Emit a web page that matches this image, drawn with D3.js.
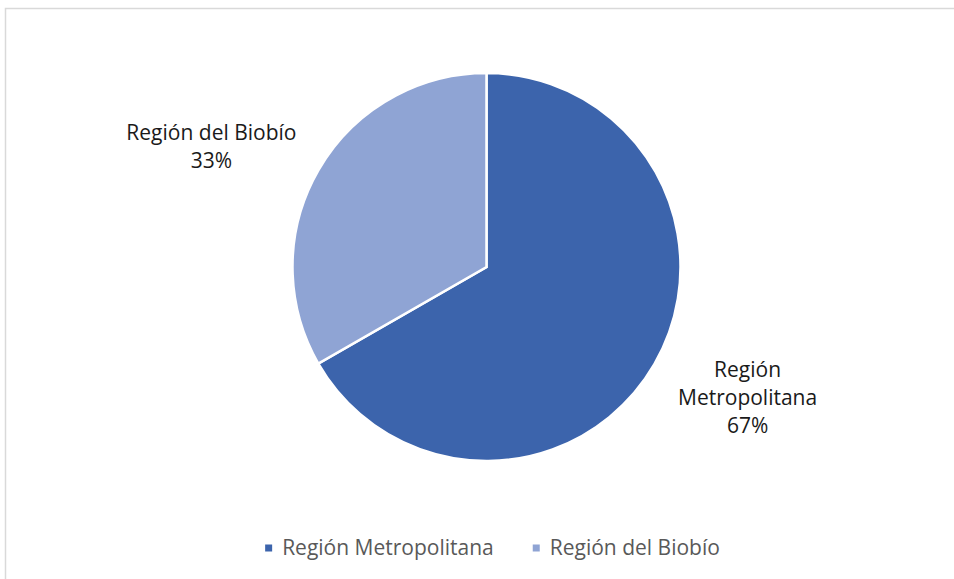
<!DOCTYPE html>
<html>
<head>
<meta charset="utf-8">
<script src="https://cdn.jsdelivr.net/npm/d3@7"></script>
<style>
  html, body { margin: 0; padding: 0; background: #fff; }
  svg { display: block; }
</style>
</head>
<body>
<svg id="chart" width="954" height="579"></svg>
<script>
const regions = ["Región Metropolitana", "Región del Biobío"]
const shares = [66.7, 33.3]
const percentLabels = ["67%", "33%"]
const colors = ["#3c64ac", "#8fa4d4"]

const width = 954
const height = 579
const cx = 486.5
const cy = 267
const radius = 194
const font = "'Open Sans', Lato, sans-serif"

const svg = d3.select("#chart")

// chart frame (only top and left visible in the crop)
svg.append("rect")
  .attr("x", 5.5).attr("y", 8.5)
  .attr("width", width + 20).attr("height", height + 20)
  .attr("fill", "#fff")
  .attr("stroke", "#d9d9d9")
  .attr("stroke-width", 1.5)

const color = d3.scaleOrdinal().domain(regions).range(colors)

const pie = d3.pie().sort(null).value(d => d.value)
const arcs = pie(regions.map((r, i) => ({ name: r, value: shares[i], label: percentLabels[i] })))

const arc = d3.arc().innerRadius(0).outerRadius(radius)
const labelArc = d3.arc().innerRadius(295).outerRadius(295)

const g = svg.append("g").attr("transform", `translate(${cx},${cy})`)

g.selectAll("path")
  .data(arcs)
  .join("path")
  .attr("d", arc)
  .attr("fill", d => color(d.data.name))
  .attr("stroke", "#fff")
  .attr("stroke-width", 2.5)
  .attr("stroke-linejoin", "miter")

// data labels, wrapped like the original
const fontSize = 21
const lineH = 28
const maxW = 195

const measure = svg.append("text").attr("font-family", font).attr("font-size", fontSize)
function textWidth(s) {
  measure.text(s)
  return measure.node().getComputedTextLength()
}

function wrap(s) {
  const words = s.split(" ")
  const lines = []
  let cur = ""
  words.forEach(w => {
    const t = cur ? cur + " " + w : w
    if (cur && textWidth(t) > maxW) {
      lines.push(cur)
      cur = w
    } else {
      cur = t
    }
  })
  lines.push(cur)
  return lines
}

arcs.forEach(d => {
  const [x, y] = labelArc.centroid(d)
  const lines = wrap(d.data.name).concat([d.data.label])
  const lx = x * 1.05 - 7
  const ly = y * 0.85 + 5
  const t = g.append("text")
    .attr("font-family", font)
    .attr("font-size", fontSize)
    .attr("fill", "#1a1a1a")
    .attr("text-anchor", "middle")
  lines.forEach((line, i) => {
    t.append("tspan")
      .attr("x", lx)
      .attr("y", ly + (i - (lines.length - 1) / 2) * lineH)
      .attr("dy", "0.35em")
      .text(line)
  })
})
measure.remove()

// legend
const legend = svg.append("g")
const items = legend.selectAll("g")
  .data(regions)
  .join("g")

items.append("rect")
  .attr("width", 7).attr("height", 7)
  .attr("y", -3.5)
  .attr("fill", d => color(d))

items.append("text")
  .attr("x", 17)
  .attr("dy", "0.35em")
  .attr("font-family", font)
  .attr("font-size", fontSize)
  .attr("fill", "#595959")
  .text(d => d)

let off = 0
items.each(function () {
  const w = this.getBBox().width
  d3.select(this).attr("transform", `translate(${off},0)`)
  off += w + 39
})
const total = off - 39
legend.attr("transform", `translate(${492.5 - total / 2},548)`)
</script>
</body>
</html>
